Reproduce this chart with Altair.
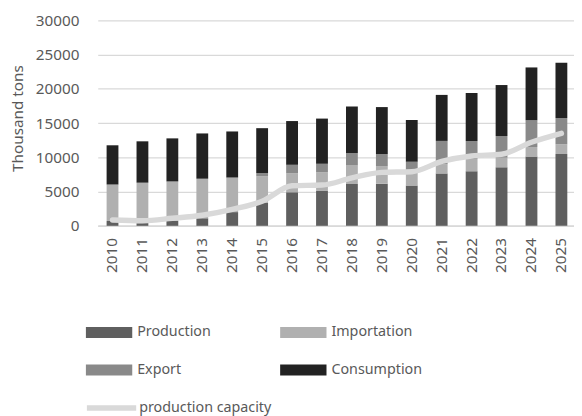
import altair as alt
import pandas as pd

years = [str(y) for y in range(2010, 2026)]
production = [700, 400, 750, 1100, 2000, 3350, 4900, 5090, 6100, 6150, 5900, 7650, 7970, 8550, 10110, 10480]
importation = [5330, 5900, 5730, 5780, 5050, 3900, 2760, 2720, 2690, 2520, 2260, 1350, 1830, 1400, 1390, 1440]
export = [0, 0, 0, 0, 0, 450, 1250, 1250, 1850, 1800, 1210, 3400, 2570, 3160, 3920, 3810]
consumption = [5730, 6040, 6290, 6610, 6730, 6560, 6390, 6600, 6800, 6870, 6080, 6720, 7040, 7450, 7710, 8100]
capacity = [850, 750, 1100, 1550, 2400, 3600, 5850, 5950, 7000, 7800, 7900, 9400, 10200, 10450, 12200, 13500]

series_names = ["Production", "Importation", "Export", "Consumption"]
series_colors = ["#5f5f5f", "#b0b0b0", "#898989", "#222222"]
y_ticks = [0, 5000, 10000, 15000, 20000, 25000, 30000]

rows = []
for i, y in enumerate(years):
    for k, (name, vals) in enumerate(zip(series_names, [production, importation, export, consumption])):
        rows.append({"year": y, "series": name, "value": vals[i], "order": k})
bars_df = pd.DataFrame(rows)
line_df = pd.DataFrame({"year": years, "value": capacity, "name": ["production capacity"] * len(years)})

GRAY = "#595959"
FONT = "Noto Sans"

x_enc = alt.X(
    "year:O",
    sort=years,
    title=None,
    scale=alt.Scale(paddingInner=0.605, paddingOuter=0.26, align=0.57),
    axis=alt.Axis(labelAngle=-90, labelFontSize=15.5, labelColor=GRAY, labelPadding=12,
                  ticks=False, grid=False, domainColor="#d9d9d9", domainWidth=1.3, labelFont=FONT),
)

y_scale = alt.Scale(domain=[0, 30000], nice=False)
y_axis = alt.Axis(values=y_ticks, format="d", labelOverlap=False,
                  title="Thousand tons", titleFontSize=15.5, titleColor=GRAY,
                  titleFontWeight="normal", titleFont=FONT, titlePadding=10, titleY=99,
                  labelFontSize=15.5, labelColor=GRAY, labelFont=FONT, labelPadding=19,
                  ticks=False, domain=False, gridColor="#d9d9d9", gridWidth=1.3)

bars = alt.Chart(bars_df).mark_bar().encode(
    x=x_enc,
    y=alt.Y("value:Q", stack="zero", scale=y_scale, axis=y_axis),
    color=alt.Color("series:N",
                    scale=alt.Scale(domain=series_names, range=series_colors),
                    legend=alt.Legend(title=None, orient="none", legendX=-12, legendY=293,
                                      direction="horizontal",
                                      columns=2, columnPadding=70, rowPadding=8,
                                      symbolType="M-1,-0.234H1V0.234H-1Z", symbolSize=2209,
                                      symbolStrokeWidth=0, labelFontSize=14.5, labelColor=GRAY,
                                      labelFont=FONT, labelOffset=5, padding=0)),
    order=alt.Order("order:Q"),
)

line = alt.Chart(line_df).mark_line(interpolate="monotone", strokeWidth=5.5, strokeCap="round").encode(
    x=x_enc,
    y=alt.Y("value:Q", scale=y_scale, axis=y_axis),
    stroke=alt.Stroke("name:N",
                      scale=alt.Scale(domain=["production capacity"], range=["#d9d9d9"]),
                      legend=alt.Legend(title=None, orient="none", legendX=-14, legendY=365,
                                        symbolType="stroke", symbolSize=2500, symbolStrokeWidth=5.5,
                                        labelFontSize=14.5, labelColor=GRAY, labelFont=FONT,
                                        labelOffset=0, padding=0)),
)

chart = (
    alt.layer(bars, line)
    .properties(
        width=483,
        height=208.3,
        autosize=alt.AutoSizeParams(type="none"),
        padding={"left": 91, "top": 9.7, "right": 0, "bottom": 190},
    )
    .configure(font=FONT)
    .configure_view(stroke=None, strokeWidth=0)
    .configure_axisY(domain=False)
    .configure_axisX(grid=False)
)

chart.save("out.html", embed_options={"renderer": "svg", "actions": False})
